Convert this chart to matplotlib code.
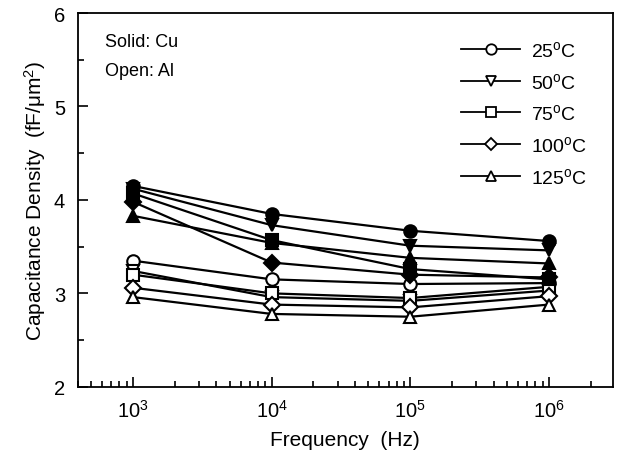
import numpy as np
from matplotlib import pyplot as plt
from matplotlib.ticker import MultipleLocator, LogLocator, NullFormatter

plt.rcParams['font.family'] = ['Liberation Sans', 'DejaVu Sans']
plt.rcParams['mathtext.fontset'] = 'custom'
plt.rcParams['mathtext.rm'] = 'Liberation Sans'
plt.rcParams['mathtext.it'] = 'Liberation Sans:italic'

freq = [1e3, 1e4, 1e5, 1e6]
temps = ['25', '50', '75', '100', '125']
markers = ['o', 'v', 's', 'D', '^']

# solid symbols: Cu
cu = {
    '25': [4.15, 3.85, 3.67, 3.56],
    '50': [4.12, 3.73, 3.51, 3.46],
    '75': [4.07, 3.57, 3.26, 3.15],
    '100': [3.98, 3.33, 3.20, 3.17],
    '125': [3.83, 3.54, 3.38, 3.32],
}
# open symbols: Al
al = {
    '25': [3.35, 3.15, 3.10, 3.11],
    '50': [3.24, 2.96, 2.92, 3.03],
    '75': [3.20, 3.00, 2.95, 3.07],
    '100': [3.06, 2.88, 2.85, 2.97],
    '125': [2.96, 2.78, 2.75, 2.88],
}


def main():
    fig = plt.figure(figsize=(6.17, 4.52), dpi=100)
    ax = fig.add_axes([0.126, 0.142, 0.8675, 0.827])

    for t, m in zip(temps, markers):
        ms = 8 if m == 'D' else 9
        ax.plot(freq, al[t], color='black', lw=1.6, marker=m, ms=ms,
                mfc='white', mec='black', mew=1.5)
        ax.plot(freq, cu[t], color='black', lw=1.6, marker=m, ms=ms,
                mfc='black', mec='black', mew=1.5)

    # legend entries
    for t, m in zip(temps, markers):
        ms = 6.5 if m == 'D' else 7.5
        ax.plot([], [], color='black', lw=1.3, marker=m, ms=ms,
                mfc='white', mec='black', mew=1.3,
                label=t + r'$^{\rm o}$C')
    h, l = ax.get_legend_handles_labels()
    ax.legend(h, l, loc='upper right', frameon=False, fontsize=14,
              handlelength=3.0, labelspacing=0.6, handletextpad=0.6,
              bbox_to_anchor=(0.985, 0.975))

    ax.set_xscale('log')
    ax.set_xlim(400, 2.9e6)
    ax.set_ylim(2, 6)
    ax.yaxis.set_major_locator(MultipleLocator(1))
    ax.yaxis.set_minor_locator(MultipleLocator(0.5))
    ax.xaxis.set_major_locator(LogLocator(base=10, numticks=10))
    ax.xaxis.set_minor_locator(LogLocator(base=10, subs=np.arange(2, 10), numticks=20))
    ax.xaxis.set_minor_formatter(NullFormatter())
    ax.tick_params(which='both', direction='in', top=False, right=False,
                   labelsize=14.5, width=1.2)
    ax.tick_params(which='major', length=7, pad=9)
    ax.tick_params(which='minor', length=4)
    for s in ax.spines.values():
        s.set_linewidth(1.3)

    ax.set_xlabel('Frequency  (Hz)', fontsize=15, labelpad=6)
    ax.set_ylabel('Capacitance Density  (fF/\u03bcm$^2$)', fontsize=15)

    ax.text(0.05, 0.925, 'Solid: Cu', transform=ax.transAxes, fontsize=13, va='center')
    ax.text(0.05, 0.845, 'Open: Al', transform=ax.transAxes, fontsize=13, va='center')

    fig.savefig('out.png', dpi=100)


if __name__ == "__main__":
    main()
